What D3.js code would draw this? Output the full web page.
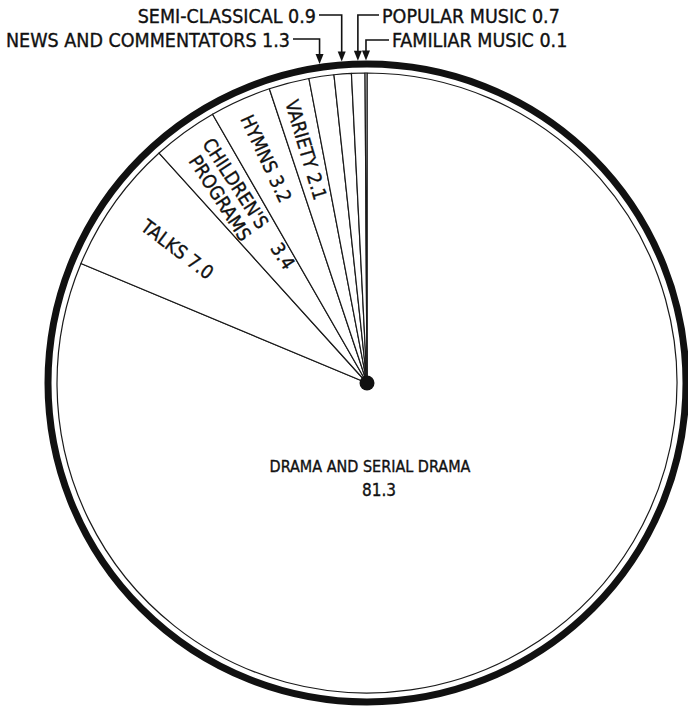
<!DOCTYPE html>
<html><head><meta charset="utf-8">
<script src="https://cdn.jsdelivr.net/npm/d3@7"></script>
<style>
html,body{margin:0;padding:0;background:#fff}
svg text{font-family:'DejaVu Sans Condensed','DejaVu Sans',sans-serif;font-stretch:condensed;fill:#111;stroke:#111;stroke-width:0.35}
</style></head><body>
<svg id="chart" width="688" height="713"></svg>
<script>
// ---- data ----
const categories = ["DRAMA AND SERIAL DRAMA","TALKS","CHILDREN'S PROGRAMS","HYMNS","VARIETY",
  "NEWS AND COMMENTATORS","SEMI-CLASSICAL","POPULAR MUSIC","FAMILIAR MUSIC"];
const values = [81.3, 7.0, 3.4, 3.2, 2.1, 1.3, 0.9, 0.7, 0.1];

// ---- layout ----
const cx = 367, cy = 383;
const rPie = 310, rRing = 319, ringW = 7;
const svg = d3.select("#chart");
const fmt = d3.format(".1f");
const data = categories.map((c, i) => ({cat: c, val: values[i], i}));

const pie = d3.pie().value(d => d.val).sort(null);
const arcs = pie(data);
const arc = d3.arc().innerRadius(0).outerRadius(rPie);

const g = svg.append("g").attr("transform", `translate(${cx},${cy})`);
g.selectAll("path.slice").data(arcs).join("path")
  .attr("class", "slice")
  .attr("d", arc)
  .attr("fill", "#fff")
  .attr("stroke", "#1a1a1a")
  .attr("stroke-width", 1.2)
  .attr("stroke-linejoin", "round");

g.append("circle").attr("r", rRing).attr("fill", "none")
  .attr("stroke", "#111").attr("stroke-width", ringW);
g.append("circle").attr("r", 7.5).attr("fill", "#111");

const mid = a => (a.startAngle + a.endAngle) / 2;
const deg = a => a * 180 / Math.PI;

// ---- interior radial labels ----
const FS = 19;
const inner = {1: {r: 232, dr: 2}, 2: {r: 213, dr: 3, two: true}, 3: {r: 246, dr: -1}, 4: {r: 241, dr: -2}};
Object.keys(inner).forEach(k => {
  const a = arcs[+k], m = mid(a), o = inner[k];
  const x = o.r * Math.sin(m), y = -o.r * Math.cos(m);
  const rot = deg(m) + 90 + o.dr;
  const lg = g.append("g").attr("transform", `translate(${x},${y}) rotate(${rot})`);
  if (!o.two) {
    lg.append("text").attr("text-anchor", "middle").attr("dominant-baseline", "central")
      .attr("font-size", FS).text(a.data.cat + " " + fmt(a.data.val));
  } else {
    const words = a.data.cat.split(" ");
    lg.append("text").attr("x", -78).attr("y", -10).attr("dominant-baseline", "central")
      .attr("font-size", FS).text(words[0]);
    lg.append("text").attr("x", 74).attr("y", -10).attr("text-anchor", "end")
      .attr("dominant-baseline", "central").attr("font-size", FS).text(fmt(a.data.val));
    lg.append("text").attr("x", -71).attr("y", 11).attr("dominant-baseline", "central")
      .attr("font-size", FS).text(words[1]);
  }
});

// ---- drama label ----
const dr = arcs[0];
svg.append("text").attr("x", 370).attr("y", 472).attr("text-anchor", "middle")
  .attr("font-size", 16).text(dr.data.cat);
svg.append("text").attr("x", 379).attr("y", 496).attr("text-anchor", "middle")
  .attr("font-size", 17).text(fmt(dr.data.val));

// ---- top callouts ----
const callouts = {
  5: {side: "left",  tx: 290, ty: 47, ly: 39},
  6: {side: "left",  tx: 316, ty: 23, ly: 15},
  7: {side: "right", tx: 382, ty: 23, ly: 15},
  8: {side: "right", tx: 392, ty: 47, ly: 40}
};
const rTip = rRing + ringW / 2;
Object.keys(callouts).forEach(k => {
  const a = arcs[+k], m = mid(a), c = callouts[k];
  const ax = cx + rTip * Math.sin(m);
  const ay = cy - rTip * Math.cos(m);
  svg.append("text").attr("x", c.tx).attr("y", c.ty)
    .attr("text-anchor", c.side === "left" ? "end" : "start")
    .attr("font-size", 19.5).text(a.data.cat + " " + fmt(a.data.val));
  const x0 = c.side === "left" ? c.tx + 3 : c.tx - 3;
  svg.append("path")
    .attr("d", `M${x0},${c.ly}H${ax}V${ay - 8}`)
    .attr("fill", "none").attr("stroke", "#111").attr("stroke-width", 1.6);
  svg.append("path")
    .attr("d", `M${ax - 4},${ay - 10}L${ax + 4},${ay - 10}L${ax},${ay}Z`)
    .attr("fill", "#111");
});
</script>
</body></html>
